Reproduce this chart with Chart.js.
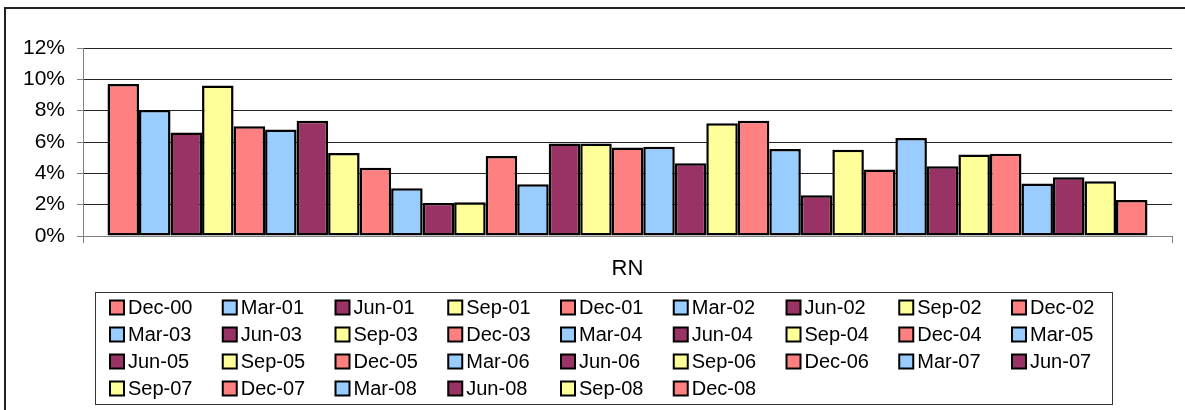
<!DOCTYPE html>
<html>
<head>
<meta charset="utf-8">
<script src="https://cdn.jsdelivr.net/npm/chart.js@4/dist/chart.umd.min.js"></script>
<style>
  body { margin: 0; background: #fff; }
  canvas { display: block; }
</style>
</head>
<body>
<canvas id="c" width="1185" height="410"></canvas>
<script>
// quarters (one series each) and their RN values in percent
const quarters = ['Dec-00', 'Mar-01', 'Jun-01', 'Sep-01', 'Dec-01', 'Mar-02', 'Jun-02', 'Sep-02', 'Dec-02',
                  'Mar-03', 'Jun-03', 'Sep-03', 'Dec-03', 'Mar-04', 'Jun-04', 'Sep-04', 'Dec-04', 'Mar-05',
                  'Jun-05', 'Sep-05', 'Dec-05', 'Mar-06', 'Jun-06', 'Sep-06', 'Dec-06', 'Mar-07', 'Jun-07',
                  'Sep-07', 'Dec-07', 'Mar-08', 'Jun-08', 'Sep-08', 'Dec-08'];
const rnValues = [9.7, 8.05, 6.6, 9.6, 7.0, 6.8, 7.35, 5.3, 4.35,
                  3.05, 2.1, 2.15, 5.1, 3.3, 5.9, 5.9, 5.65, 5.7,
                  4.65, 7.2, 7.35, 5.55, 2.6, 5.5, 4.25, 6.25, 4.45,
                  5.2, 5.25, 3.35, 3.75, 3.5, 2.3];
const category = ['RN'];
const yTicks = [0, 2, 4, 6, 8, 10, 12];
const palette = ['#FF8080', '#99CCFF', '#993366', '#FFFF99'];

const FONT = '"Liberation Sans", Arial, sans-serif';

const datasets = quarters.map((q, i) => ({
    label: q,
    data: [rnValues[i]],
    backgroundColor: palette[i % 4],
    borderColor: '#000',
    borderWidth: 2.5,
    borderSkipped: false,
    categoryPercentage: 0.955,
    barPercentage: 1.0
}));

// outer frame of the chart object
const framePlugin = {
    id: 'frame',
    beforeDraw(chart) {
        const ctx = chart.ctx;
        ctx.save();
        ctx.strokeStyle = '#222';
        ctx.lineWidth = 2;
        ctx.strokeRect(5, 8, 1400, 600);
        ctx.restore();
    }
};

// Excel-style legend: boxed grid of 9 columns
const gridLegend = {
    id: 'gridLegend',
    afterDraw(chart) {
        const ctx = chart.ctx;
        const box = { x: 95, y: 292, w: 1017, h: 112 };
        const cols = 9, colW = 112.75, rowH = 27;
        ctx.save();
        ctx.fillStyle = '#fff';
        ctx.fillRect(box.x, box.y, box.w, box.h);
        ctx.strokeStyle = '#333';
        ctx.lineWidth = 1;
        ctx.strokeRect(box.x + 0.5, box.y + 0.5, box.w, box.h);
        ctx.font = '20px ' + FONT;
        ctx.textBaseline = 'middle';
        chart.data.datasets.forEach((ds, i) => {
            const col = i % cols, row = Math.floor(i / cols);
            const x = 110 + col * colW;
            const y = 307.5 + row * rowH;
            ctx.fillStyle = ds.backgroundColor;
            ctx.fillRect(x, y - 7, 14, 14);
            ctx.strokeStyle = '#000';
            ctx.lineWidth = 2;
            ctx.strokeRect(x, y - 7, 14, 14);
            ctx.fillStyle = '#000';
            ctx.fillText(ds.label, x + 18, y + 1);
        });
        ctx.restore();
    }
};

new Chart(document.getElementById('c'), {
    type: 'bar',
    data: { labels: category, datasets },
    options: {
        responsive: false,
        animation: false,
        devicePixelRatio: 1,
        layout: { padding: { left: 0, top: 48, right: 13, bottom: 0 } },
        plugins: {
            legend: { display: false },
            tooltip: { enabled: false }
        },
        scales: {
            x: {
                grid: {
                    offset: true,
                    drawOnChartArea: false,
                    drawTicks: true,
                    tickLength: 7,
                    tickColor: '#808080'
                },
                border: { display: true, color: '#808080', width: 1 },
                ticks: {
                    color: '#000',
                    font: { family: FONT, size: 22 },
                    padding: 13
                },
                afterFit(scale) { scale.height = 174; }
            },
            y: {
                min: 0,
                max: 12,
                afterBuildTicks(scale) { scale.ticks = yTicks.map(v => ({ value: v })); },
                grid: {
                    color: '#222',
                    lineWidth: 1,
                    tickLength: 6,
                    tickColor: '#808080'
                },
                border: { display: true, color: '#808080', width: 1 },
                ticks: {
                    color: '#000',
                    font: { family: FONT, size: 21 },
                    padding: 12,
                    callback: v => v + '%'
                },
                afterFit(scale) { scale.width = 83; }
            }
        }
    },
    plugins: [framePlugin, gridLegend]
});
</script>
</body>
</html>
